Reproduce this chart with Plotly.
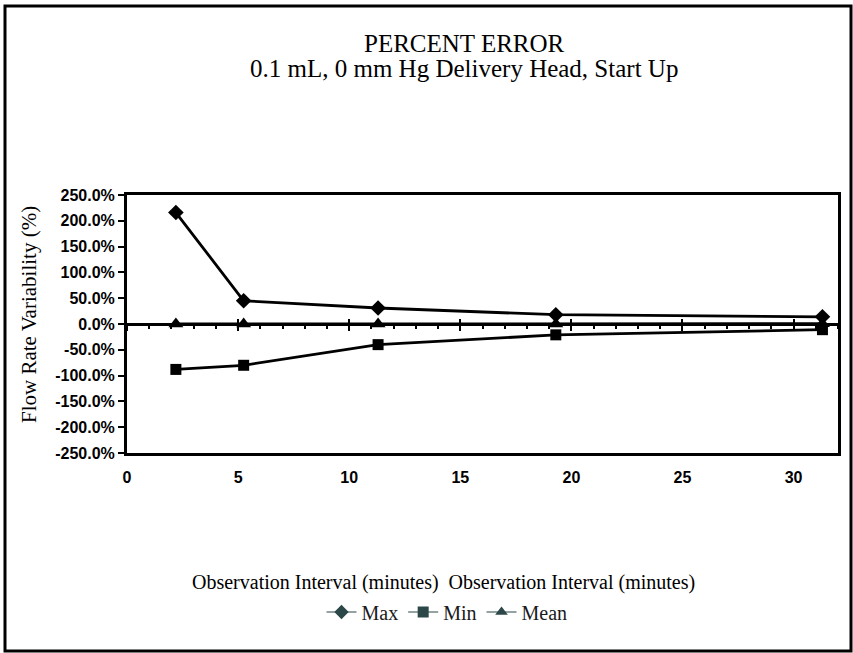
import plotly.graph_objects as go

# Observation intervals (minutes) and percent error per interval
intervals = [2.2, 5.25, 11.3, 19.3, 31.3]
max_err = [216.0, 45.0, 31.0, 18.0, 14.0]
min_err = [-88.0, -80.0, -40.0, -21.0, -11.0]
mean_err = [0.0, 0.0, 0.0, 0.0, 0.5]

y_ticks = [250, 200, 150, 100, 50, 0, -50, -100, -150, -200, -250]
y_tick_text = [f"{v:.1f}%" for v in y_ticks]
x_label_ticks = [0, 5, 10, 15, 20, 25, 30]
x_range = [0, 32]

W, H = 853, 653
L, R, T, B = 127, 838, 195, 453

serif = "Liberation Serif"
sans = "Liberation Sans"
legend_col = "#2b4747"

fig = go.Figure()

series = [
    ("Max", max_err, "diamond", 12),
    ("Min", min_err, "square", 11),
    ("Mean", mean_err, "triangle-up", 13),
]
for name, vals, sym, sz in series:
    fig.add_trace(go.Scatter(
        x=intervals, y=vals, mode="lines+markers", name=name,
        line=dict(color="black", width=2.8),
        marker=dict(symbol=sym, size=sz, color="black"),
        showlegend=False, xaxis="x", yaxis="y",
    ))

# thin legend entries
for name, vals, sym, sz in series:
    fig.add_trace(go.Scatter(
        x=[None], y=[None], mode="lines+markers", name=name,
        line=dict(color=legend_col, width=1.2),
        marker=dict(symbol=sym, size=11, color=legend_col),
        xaxis="x", yaxis="y",
    ))

# empty traces so the overlay axes get drawn
for ax in ("x2", "x3"):
    fig.add_trace(go.Scatter(x=[None], y=[None], xaxis=ax, yaxis="y",
                             showlegend=False, hoverinfo="skip"))

tick_font = dict(family=sans, size=16, color="black", weight="bold")


def px_x(px):
    return (px - L) / (R - L)


def px_y(py):
    return (B - py) / (B - T)


fig.update_layout(
    width=W, height=H,
    margin=dict(l=L, r=W - R, t=T, b=H - B, autoexpand=False),
    paper_bgcolor="white", plot_bgcolor="white",
    # horizontal axis crossing at 0 %, with crossing major ticks
    xaxis=dict(
        range=x_range, anchor="free", position=0.5, layer="below traces",
        showline=True, linecolor="black", linewidth=2.5,
        showgrid=False, zeroline=False,
        ticks="outside", ticklen=5, tickwidth=2, tickcolor="black",
        dtick=5, tick0=0, showticklabels=False,
        minor=dict(ticks="outside", ticklen=3, tickwidth=2,
                   tickcolor="black", dtick=1, showgrid=False),
    ),
    xaxis3=dict(
        range=x_range, anchor="free", position=0.5, overlaying="x",
        layer="below traces",
        showline=False, showgrid=False, zeroline=False,
        ticks="inside", ticklen=5, tickwidth=2, tickcolor="black",
        dtick=5, tick0=0, showticklabels=False,
    ),
    # minute labels along the bottom of the plot area
    xaxis2=dict(
        range=x_range, overlaying="x", anchor="y", side="bottom",
        showline=True, linecolor="black", linewidth=3, mirror=True,
        showgrid=False, zeroline=False, ticks="",
        tickvals=x_label_ticks, ticklabelstandoff=8,
        tickfont=tick_font,
    ),
    yaxis=dict(
        range=[-250, 250], showline=True, linecolor="black", linewidth=3,
        mirror=True, showgrid=False, zeroline=False,
        ticks="outside", ticklen=6, tickwidth=2, tickcolor="black",
        tickvals=y_ticks, ticktext=y_tick_text,
        tickfont=tick_font,
    ),
    legend=dict(
        orientation="h", xref="container", yref="container",
        x=447 / W, xanchor="center", y=1 - 612 / H, yanchor="middle",
        font=dict(family=serif, size=20, color="#1a1a1a"),
        itemwidth=30, tracegroupgap=0,
    ),
    annotations=[
        dict(text="PERCENT ERROR", xref="paper", yref="paper",
             x=px_x(464), y=px_y(43),
             xanchor="center", yanchor="middle", showarrow=False,
             font=dict(family=serif, size=25, color="black")),
        dict(text="0.1 mL, 0 mm Hg Delivery Head, Start Up",
             xref="paper", yref="paper", x=px_x(464), y=px_y(68),
             xanchor="center", yanchor="middle", showarrow=False,
             font=dict(family=serif, size=25, color="black")),
        dict(text="Flow Rate Variability (%)",
             xref="paper", yref="paper", x=px_x(29), y=px_y(315),
             xanchor="center", yanchor="middle", showarrow=False,
             textangle=-90,
             font=dict(family=serif, size=21, color="black")),
        dict(text="Observation Interval (minutes)  Observation Interval (minutes)",
             xref="paper", yref="paper", x=px_x(443), y=px_y(582),
             xanchor="center", yanchor="middle", showarrow=False,
             font=dict(family=serif, size=20, color="black")),
    ],
    shapes=[dict(
        type="rect", xref="paper", yref="paper",
        x0=px_x(5), x1=px_x(851), y0=px_y(651), y1=px_y(6),
        line=dict(color="black", width=3), layer="below",
    )],
)

fig.write_html("out.html")
